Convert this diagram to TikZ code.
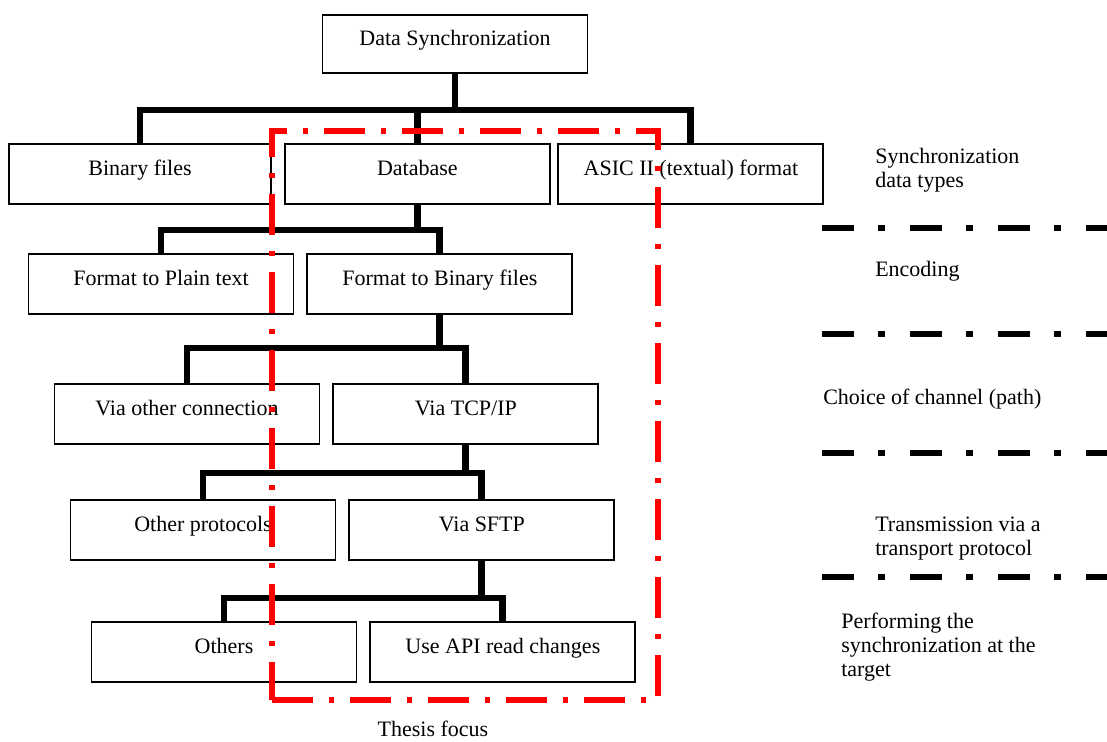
\documentclass[tikz,border=0pt]{standalone}
\usepackage{fontspec}
\setmainfont{Liberation Serif}
\usetikzlibrary{positioning,calc}
\tikzset{
    box/.style = {draw, rectangle, line width=1.4pt, minimum width=198.75pt, minimum height=45pt, text height=11pt, text depth=8.5pt, inner sep=0pt},
    tree/.style = {line width=5.2pt, line join=miter},
    focus/.style = {draw=red, rectangle, line width=3.8pt, dash pattern=on 31pt off 12pt on 3.5pt off 12pt, inner sep=0pt},
    layer/.style = {line width=5pt, dash pattern=on 24pt off 18pt on 5.25pt off 18.75pt},
    lbl/.style = {align=left, anchor=west, inner sep=0pt},
}

\begin{document}
\begin{tikzpicture}[
    x=0.75pt, y=-0.75pt,
    every node/.style={font=\fontsize{16.5pt}{18pt}\selectfont}
]
\useasboundingbox (0,0) rectangle (1107,742);

% Root
\node[box, minimum height=43.5pt] (datasync) at (455,44) {Data Synchronization};

% Data types
\node[box, minimum width=196.5pt] (binfiles) at (140,174) {Binary files};
\node[box, right=9pt of binfiles] (database) {Database};
\node[box, right=5pt of database] (asic) {ASIC II (textual) format};

% Encoding
\node[box] (plain) at (161,284) {Format to Plain text};
\node[box, right=9pt of plain] (binfmt) {Format to Binary files};

% Channel
\node[box] (viaother) at (187,414) {Via other connection};
\node[box, right=9pt of viaother] (tcpip) {Via TCP/IP};

% Protocol
\node[box] (otherprot) at (203,530) {Other protocols};
\node[box, right=9pt of otherprot] (sftp) {Via SFTP};

% Target
\node[box] (others) at (224,652) {Others};
\node[box, right=9pt of others] (apiread) {Use API read changes};

% Bars of the tree
\coordinate (bar1) at (0,110);
\coordinate (bar2) at (0,230);
\coordinate (bar3) at (0,348);
\coordinate (bar4) at (0,473);
\coordinate (bar5) at (0,598);

% Tree connectors
\draw[tree] (datasync.south) -- (datasync.south |- bar1);
\draw[tree] (binfiles.north) -- (binfiles.north |- bar1) -- (asic.north |- bar1) -- (asic.north);
\draw[tree] (database.north) -- (database.north |- bar1);

\draw[tree] (database.south) -- (database.south |- bar2);
\draw[tree] (plain.north) -- (plain.north |- bar2) -- (binfmt.north |- bar2) -- (binfmt.north);

\draw[tree] (binfmt.south) -- (binfmt.south |- bar3);
\draw[tree] (viaother.north) -- (viaother.north |- bar3) -- (tcpip.north |- bar3) -- (tcpip.north);

\draw[tree] (tcpip.south) -- (tcpip.south |- bar4);
\draw[tree] (otherprot.north) -- (otherprot.north |- bar4) -- (sftp.north |- bar4) -- (sftp.north);

\draw[tree] (sftp.south) -- (sftp.south |- bar5);
\draw[tree] (others.north) -- (others.north |- bar5) -- (apiread.north |- bar5) -- (apiread.north);

% Thesis focus frame
\node[focus, minimum width=289.5pt, minimum height=426.75pt] (focus) at (465,415.5) {};
\node (focuslbl) at (433,729) {Thesis focus};

% Layer separators
\foreach \ly in {228,334,453,577}
    \draw[layer] (822,\ly) -- (1107,\ly);

% Layer labels
\node[lbl] (types) at (875,170) {Synchronization\\data types};
\node[lbl] (encoding) at (875,271) {Encoding};
\node[lbl] (channel) at (823,399) {Choice of channel (path)};
\node[lbl] (transport) at (875,539) {Transmission via a\\transport protocol};
\node[lbl] (perform) at (841,647) {Performing the\\synchronization at the\\target};

\end{tikzpicture}
\end{document}
